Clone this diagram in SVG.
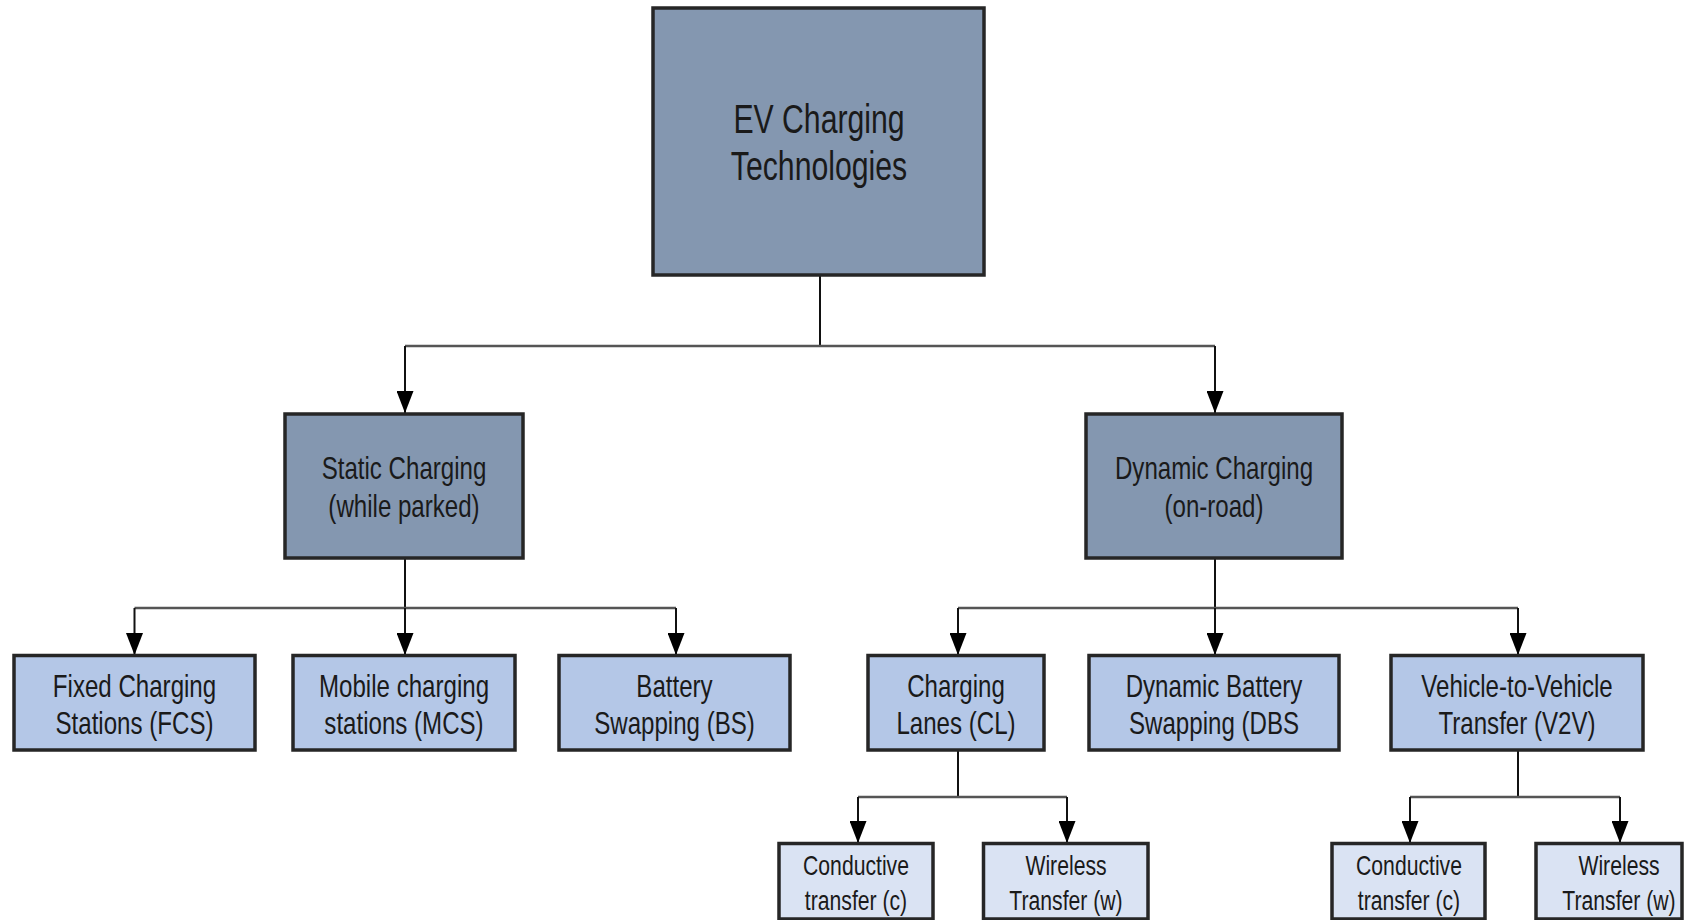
<svg xmlns="http://www.w3.org/2000/svg" width="1688" height="920" viewBox="0 0 1688 920">
<style>
.box{stroke:#262626;stroke-width:3.5}
.l0{fill:#8497b0}
.l1{fill:#8497b0}
.l2{fill:#b4c7e7}
.l3{fill:#dae3f3}
text{font-family:"Liberation Sans",Arial,sans-serif;fill:#1a1a1a;text-anchor:middle}
.t0{font-size:40px}
.t1{font-size:31.5px}
.t3{font-size:27.5px}
.v{stroke:#111;stroke-width:2;fill:none}
.h{stroke:#555;stroke-width:2.5;fill:none}
.a{stroke:#111;stroke-width:2;fill:none;marker-end:url(#arr)}
</style>
<defs>
<marker id="arr" markerUnits="userSpaceOnUse" viewBox="0 0 22 17" refX="22" refY="8.5" markerWidth="22" markerHeight="17" orient="auto">
<path d="M0,0 L22,8.5 L0,17 z" fill="#000"/>
</marker>
</defs>
<g id="connectors">
<path class="v" d="M820,275 V346"/>
<path class="h" d="M405,346 H1215"/>
<path class="a" d="M405,346 V413"/>
<path class="a" d="M1215,346 V413"/>
<path class="v" d="M405,558 V608"/>
<path class="h" d="M134.5,608 H676"/>
<path class="a" d="M134.5,608 V655"/>
<path class="a" d="M405,608 V655"/>
<path class="a" d="M676,608 V655"/>
<path class="v" d="M1215,558 V608"/>
<path class="h" d="M958,608 H1518"/>
<path class="a" d="M958,608 V655"/>
<path class="a" d="M1215,608 V655"/>
<path class="a" d="M1518,608 V655"/>
<path class="v" d="M958,750 V797"/>
<path class="h" d="M858,797 H1067"/>
<path class="a" d="M858,797 V843"/>
<path class="a" d="M1067,797 V843"/>
<path class="v" d="M1518,750 V797"/>
<path class="h" d="M1410,797 H1620"/>
<path class="a" d="M1410,797 V843"/>
<path class="a" d="M1620,797 V843"/>
</g>
<g id="root">
<rect class="box l0" x="653" y="8" width="331" height="267"/>
<text class="t0" transform="translate(819 133) scale(0.755 1)"><tspan x="0" y="0">EV Charging</tspan><tspan x="0" y="47.3">Technologies</tspan></text>
</g>
<g id="static">
<rect class="box l1" x="285" y="414" width="238" height="144"/>
<text class="t1" transform="translate(404 479.3) scale(0.765 1)"><tspan x="0" y="0">Static Charging</tspan><tspan x="0" y="38">(while parked)</tspan></text>
</g>
<g id="dynamic">
<rect class="box l1" x="1086" y="414" width="256" height="144"/>
<text class="t1" transform="translate(1214 479.3) scale(0.765 1)"><tspan x="0" y="0">Dynamic Charging</tspan><tspan x="0" y="38">(on-road)</tspan></text>
</g>
<g id="fcs">
<rect class="box l2" x="14" y="655.5" width="241" height="94.5"/>
<text class="t1" transform="translate(134.5 696.7) scale(0.765 1)"><tspan x="0" y="0">Fixed Charging</tspan><tspan x="0" y="37.5">Stations (FCS)</tspan></text>
</g>
<g id="mcs">
<rect class="box l2" x="293" y="655.5" width="222" height="94.5"/>
<text class="t1" transform="translate(404 696.7) scale(0.765 1)"><tspan x="0" y="0">Mobile charging</tspan><tspan x="0" y="37.5">stations (MCS)</tspan></text>
</g>
<g id="bs">
<rect class="box l2" x="559" y="655.5" width="231" height="94.5"/>
<text class="t1" transform="translate(674.5 696.7) scale(0.765 1)"><tspan x="0" y="0">Battery</tspan><tspan x="0" y="37.5">Swapping (BS)</tspan></text>
</g>
<g id="cl">
<rect class="box l2" x="868" y="655.5" width="176" height="94.5"/>
<text class="t1" transform="translate(956 696.7) scale(0.765 1)"><tspan x="0" y="0">Charging</tspan><tspan x="0" y="37.5">Lanes (CL)</tspan></text>
</g>
<g id="dbs">
<rect class="box l2" x="1089" y="655.5" width="250" height="94.5"/>
<text class="t1" transform="translate(1214 696.7) scale(0.765 1)"><tspan x="0" y="0">Dynamic Battery</tspan><tspan x="0" y="37.5">Swapping (DBS</tspan></text>
</g>
<g id="v2v">
<rect class="box l2" x="1391" y="655.5" width="252" height="94.5"/>
<text class="t1" transform="translate(1517 696.7) scale(0.765 1)"><tspan x="0" y="0">Vehicle-to-Vehicle</tspan><tspan x="0" y="37.5">Transfer (V2V)</tspan></text>
</g>
<g id="cl-c">
<rect class="box l3" x="779" y="843.5" width="154" height="75.5"/>
<text class="t3" transform="translate(856 875) scale(0.77 1)"><tspan x="0" y="0">Conductive</tspan><tspan x="0" y="35">transfer (c)</tspan></text>
</g>
<g id="cl-w">
<rect class="box l3" x="983.5" y="843.5" width="164.5" height="75.5"/>
<text class="t3" transform="translate(1066 875) scale(0.77 1)"><tspan x="0" y="0">Wireless</tspan><tspan x="0" y="35">Transfer (w)</tspan></text>
</g>
<g id="v2v-c">
<rect class="box l3" x="1332" y="843.5" width="153" height="75.5"/>
<text class="t3" transform="translate(1409 875) scale(0.77 1)"><tspan x="0" y="0">Conductive</tspan><tspan x="0" y="35">transfer (c)</tspan></text>
</g>
<g id="v2v-w">
<rect class="box l3" x="1536" y="843.5" width="146" height="75.5"/>
<text class="t3" transform="translate(1619 875) scale(0.77 1)"><tspan x="0" y="0">Wireless</tspan><tspan x="0" y="35">Transfer (w)</tspan></text>
</g>
</svg>
